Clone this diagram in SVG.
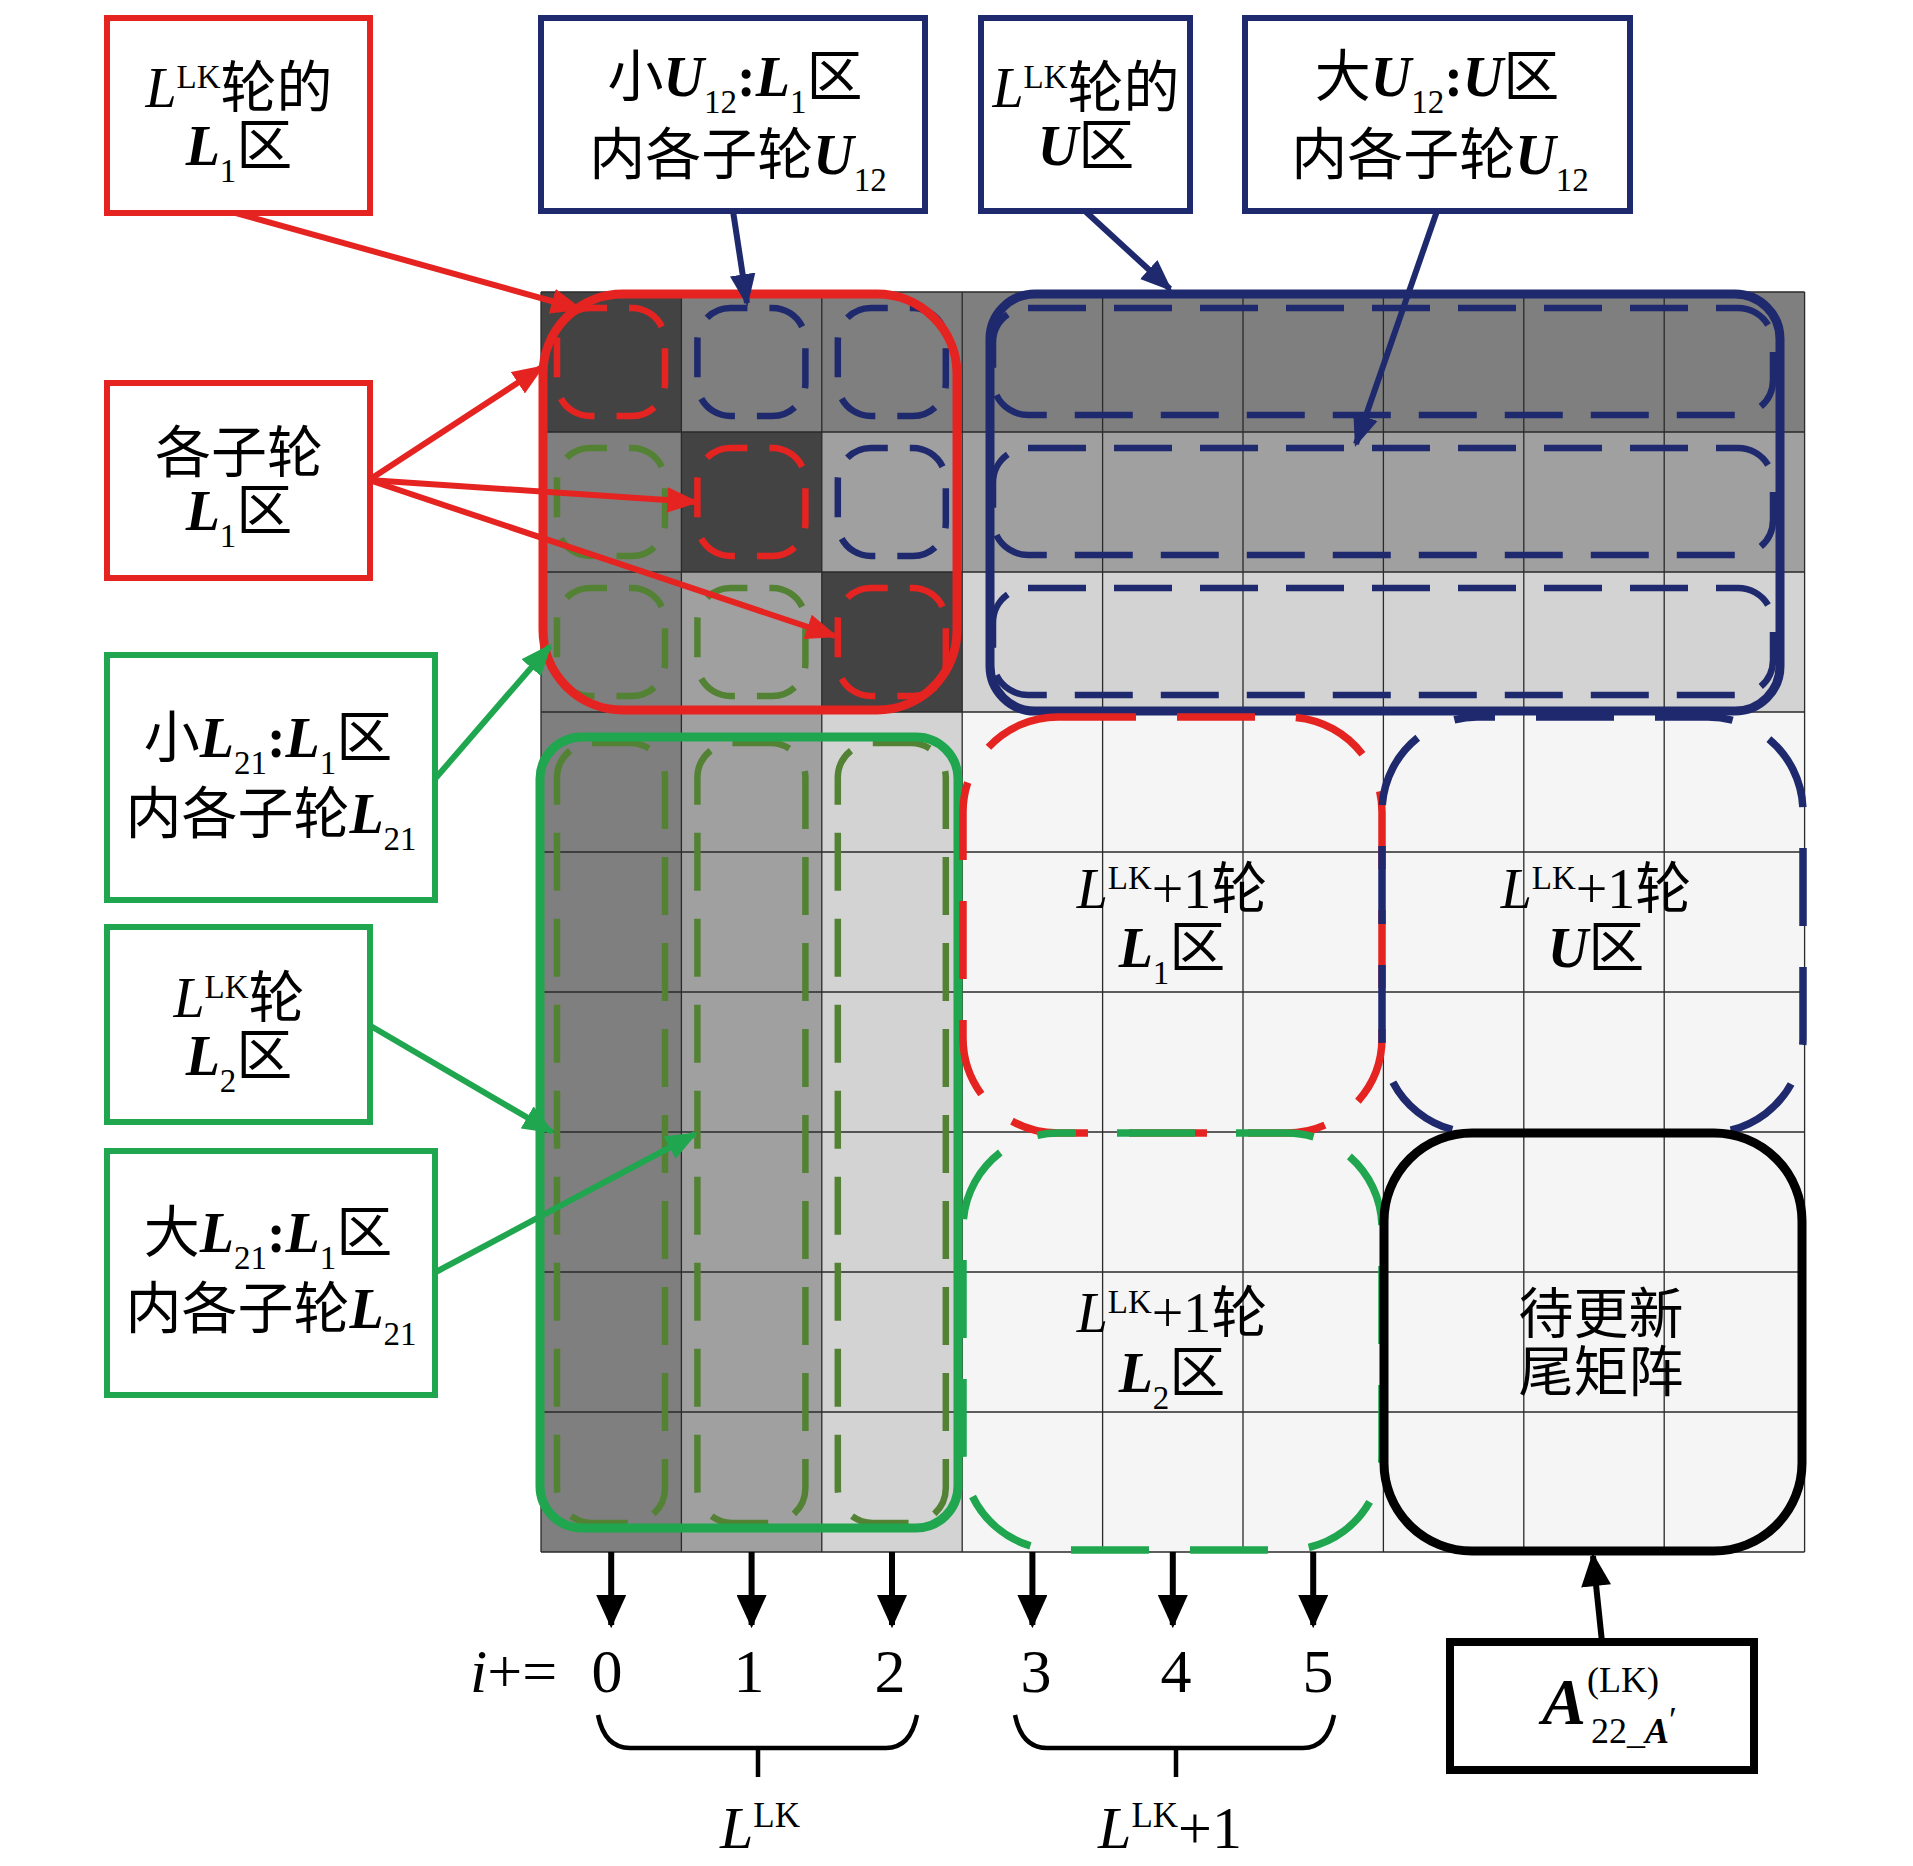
<svg xmlns="http://www.w3.org/2000/svg" width="1913" height="1866" viewBox="0 0 1913 1866">
<style>
.t{font-family:"Liberation Serif","Noto Sans CJK SC",serif;fill:#000}
.m{font-size:56px}
.bi{font-weight:bold;font-style:italic}
.it{font-style:italic}
.s{font-size:33px}
.box{fill:#fff;stroke-width:6}
.red{stroke:#e52421}
.blu{stroke:#1f2a6e}
.grn{stroke:#1fa64f}
.olv{stroke:#548235}
.blk{stroke:#000}
.cell{fill:none;stroke-width:6.5;stroke-dasharray:40 22;stroke-dashoffset:23}
.col{fill:none;stroke-width:6.5;stroke-dasharray:58 28}
.big{fill:none;stroke-width:7.5;stroke-dasharray:78 41}
.sol{fill:none;stroke-width:9}
.ln{fill:none;stroke-width:6}
</style>
<defs>
<marker id="mR" viewBox="0 0 10 8" refX="9" refY="4" markerWidth="32" markerHeight="26" markerUnits="userSpaceOnUse" orient="auto"><path d="M0,0L10,4L0,8z" fill="#e52421"/></marker>
<marker id="mB" viewBox="0 0 10 8" refX="9" refY="4" markerWidth="32" markerHeight="26" markerUnits="userSpaceOnUse" orient="auto"><path d="M0,0L10,4L0,8z" fill="#1f2a6e"/></marker>
<marker id="mG" viewBox="0 0 10 8" refX="9" refY="4" markerWidth="32" markerHeight="26" markerUnits="userSpaceOnUse" orient="auto"><path d="M0,0L10,4L0,8z" fill="#1fa64f"/></marker>
<marker id="mK" viewBox="0 0 10 9" refX="9" refY="4.5" markerWidth="34" markerHeight="30" markerUnits="userSpaceOnUse" orient="auto"><path d="M0,0L10,4.5L0,9z" fill="#000"/></marker>
</defs>
<rect width="1913" height="1866" fill="#fff"/>

<g id="matrix">
<rect x="541" y="292" width="1264" height="140" fill="#7f7f7f"/>
<rect x="541" y="432" width="1264" height="140" fill="#a0a0a0"/>
<rect x="541" y="572" width="1264" height="140" fill="#d3d3d3"/>
<rect x="541" y="432" width="140.4" height="1120" fill="#7f7f7f"/>
<rect x="681.4" y="572" width="140.4" height="980" fill="#a0a0a0"/>
<rect x="821.8" y="712" width="140.4" height="840" fill="#d3d3d3"/>
<rect x="962.2" y="712" width="842.4" height="840" fill="#f5f5f5"/>
<rect x="541" y="292" width="140.4" height="140" fill="#434343"/>
<rect x="681.4" y="432" width="140.4" height="140" fill="#434343"/>
<rect x="821.8" y="572" width="140.4" height="140" fill="#434343"/>
<path d="M541,292V1552M681.4,292V1552M821.8,292V1552M962.2,292V1552M1102.6,292V1552M1243,292V1552M1383.4,292V1552M1523.8,292V1552M1664.2,292V1552M1804.6,292V1552M541,292H1804.6M541,432H1804.6M541,572H1804.6M541,712H1804.6M541,852H1804.6M541,992H1804.6M541,1132H1804.6M541,1272H1804.6M541,1412H1804.6M541,1552H1804.6" stroke="#2a2a2a" stroke-width="1.3" fill="none"/>
</g>

<g id="sub-blocks">
<rect class="cell red" x="557" y="308" width="108" height="108" rx="33"/>
<rect class="cell blu" x="697.4" y="308" width="108" height="108" rx="33"/>
<rect class="cell blu" x="837.8" y="308" width="108" height="108" rx="33"/>
<rect class="cell olv" x="557" y="448" width="108" height="108" rx="33"/>
<rect class="cell red" x="697.4" y="448" width="108" height="108" rx="33"/>
<rect class="cell blu" x="837.8" y="448" width="108" height="108" rx="33"/>
<rect class="cell olv" x="557" y="588" width="108" height="108" rx="33"/>
<rect class="cell olv" x="697.4" y="588" width="108" height="108" rx="33"/>
<rect class="cell red" x="837.8" y="588" width="108" height="108" rx="33"/>
<rect class="col olv" x="557" y="743" width="108" height="780" rx="35"/>
<rect class="col olv" x="697.4" y="743" width="108" height="780" rx="35"/>
<rect class="col olv" x="837.8" y="743" width="108" height="780" rx="35"/>
<rect class="col blu" x="993" y="308" width="780" height="107" rx="35"/>
<rect class="col blu" x="993" y="448" width="780" height="107" rx="35"/>
<rect class="col blu" x="993" y="588" width="780" height="107" rx="35"/>
</g>

<g id="region-L1"><rect class="sol red" x="543" y="294" width="414" height="416" rx="80"/></g>
<g id="region-U"><rect class="sol blu" x="990" y="294" width="790" height="417" rx="45"/></g>
<g id="region-L2"><rect class="sol grn" x="540" y="737" width="418" height="791" rx="42"/></g>
<g id="next-L1"><rect class="big red" x="963" y="717" width="419" height="416" rx="95"/>
<text class="t m" x="1172" y="908" text-anchor="middle"><tspan class="it">L</tspan><tspan class="s" dy="-19">LK</tspan><tspan dy="19">+1轮</tspan></text>
<text class="t m" x="1172" y="967" text-anchor="middle"><tspan class="bi">L</tspan><tspan class="s" dy="17">1</tspan><tspan dy="-17">区</tspan></text></g>
<g id="next-U"><rect class="big blu" x="1382" y="717" width="421" height="416" rx="95" stroke-dashoffset="60"/>
<text class="t m" x="1596" y="908" text-anchor="middle"><tspan class="it">L</tspan><tspan class="s" dy="-19">LK</tspan><tspan dy="19">+1轮</tspan></text>
<text class="t m" x="1596" y="967" text-anchor="middle"><tspan class="bi">U</tspan>区</text></g>
<g id="next-L2"><rect class="big grn" x="963" y="1133" width="419" height="417" rx="95" stroke-dashoffset="60"/>
<text class="t m" x="1172" y="1332" text-anchor="middle"><tspan class="it">L</tspan><tspan class="s" dy="-19">LK</tspan><tspan dy="19">+1轮</tspan></text>
<text class="t m" x="1172" y="1392" text-anchor="middle"><tspan class="bi">L</tspan><tspan class="s" dy="17">2</tspan><tspan dy="-17">区</tspan></text></g>
<g id="tail"><rect class="sol blk" x="1384" y="1133" width="418" height="418" rx="88"/>
<text class="t" x="1601" y="1333" text-anchor="middle" style="font-size:55px">待更新</text>
<text class="t" x="1601" y="1391" text-anchor="middle" style="font-size:55px">尾矩阵</text></g>

<g id="box1"><rect class="box red" x="107" y="18" width="263" height="195"/>
<text class="t m" x="239" y="107" text-anchor="middle"><tspan class="it">L</tspan><tspan class="s" dy="-19">LK</tspan><tspan dy="19">轮的</tspan></text>
<text class="t m" x="239" y="165" text-anchor="middle"><tspan class="bi">L</tspan><tspan class="s" dy="17">1</tspan><tspan dy="-17">区</tspan></text></g>
<g id="box2"><rect class="box blu" x="541" y="18" width="384" height="193"/>
<text class="t m" x="735" y="96" text-anchor="middle">小<tspan class="bi">U</tspan><tspan class="s" dy="17">12</tspan><tspan dy="-17" font-weight="bold">:</tspan><tspan class="bi">L</tspan><tspan class="s" dy="17">1</tspan><tspan dy="-17">区</tspan></text>
<text class="t m" x="738" y="174" text-anchor="middle">内各子轮<tspan class="bi">U</tspan><tspan class="s" dy="17">12</tspan></text></g>
<g id="box3"><rect class="box blu" x="981" y="18" width="209" height="193"/>
<text class="t m" x="1086" y="107" text-anchor="middle"><tspan class="it">L</tspan><tspan class="s" dy="-19">LK</tspan><tspan dy="19">轮的</tspan></text>
<text class="t m" x="1086" y="165" text-anchor="middle"><tspan class="bi">U</tspan>区</text></g>
<g id="box4"><rect class="box blu" x="1245" y="18" width="385" height="193"/>
<text class="t m" x="1437" y="96" text-anchor="middle">大<tspan class="bi">U</tspan><tspan class="s" dy="17">12</tspan><tspan dy="-17" font-weight="bold">:</tspan><tspan class="bi">U</tspan>区</text>
<text class="t m" x="1440" y="174" text-anchor="middle">内各子轮<tspan class="bi">U</tspan><tspan class="s" dy="17">12</tspan></text></g>
<g id="box5"><rect class="box red" x="107" y="383" width="263" height="195"/>
<text class="t m" x="239" y="472" text-anchor="middle">各子轮</text>
<text class="t m" x="239" y="530" text-anchor="middle"><tspan class="bi">L</tspan><tspan class="s" dy="17">1</tspan><tspan dy="-17">区</tspan></text></g>
<g id="box6"><rect class="box grn" x="107" y="655" width="328" height="245"/>
<text class="t m" x="268" y="757" text-anchor="middle">小<tspan class="bi">L</tspan><tspan class="s" dy="17">21</tspan><tspan dy="-17" font-weight="bold">:</tspan><tspan class="bi">L</tspan><tspan class="s" dy="17">1</tspan><tspan dy="-17">区</tspan></text>
<text class="t m" x="271" y="833" text-anchor="middle">内各子轮<tspan class="bi">L</tspan><tspan class="s" dy="17">21</tspan></text></g>
<g id="box7"><rect class="box grn" x="107" y="927" width="263" height="195"/>
<text class="t m" x="239" y="1017" text-anchor="middle"><tspan class="it">L</tspan><tspan class="s" dy="-19">LK</tspan><tspan dy="19">轮</tspan></text>
<text class="t m" x="239" y="1075" text-anchor="middle"><tspan class="bi">L</tspan><tspan class="s" dy="17">2</tspan><tspan dy="-17">区</tspan></text></g>
<g id="box8"><rect class="box grn" x="107" y="1151" width="328" height="244"/>
<text class="t m" x="268" y="1252" text-anchor="middle">大<tspan class="bi">L</tspan><tspan class="s" dy="17">21</tspan><tspan dy="-17" font-weight="bold">:</tspan><tspan class="bi">L</tspan><tspan class="s" dy="17">1</tspan><tspan dy="-17">区</tspan></text>
<text class="t m" x="271" y="1328" text-anchor="middle">内各子轮<tspan class="bi">L</tspan><tspan class="s" dy="17">21</tspan></text></g>
<g id="boxA"><rect x="1450" y="1642" width="304" height="128" fill="#fff" stroke="#000" stroke-width="8"/>
<text class="t bi" x="1542" y="1724" style="font-size:66px">A</text>
<text class="t" x="1587" y="1692" style="font-size:36px">(LK)</text>
<text class="t" x="1591" y="1743" style="font-size:36px">22_<tspan class="bi">A</tspan><tspan dy="-11">′</tspan></text></g>

<g id="axis">
<text class="t" x="470" y="1692" style="font-size:62px"><tspan class="it">i</tspan>+=</text>
<text class="t" x="607" y="1692" style="font-size:62px" text-anchor="middle">0</text>
<text class="t" x="749" y="1692" style="font-size:62px" text-anchor="middle">1</text>
<text class="t" x="890" y="1692" style="font-size:62px" text-anchor="middle">2</text>
<text class="t" x="1036" y="1692" style="font-size:62px" text-anchor="middle">3</text>
<text class="t" x="1176" y="1692" style="font-size:62px" text-anchor="middle">4</text>
<text class="t" x="1318" y="1692" style="font-size:62px" text-anchor="middle">5</text>
<path d="M598,1715C602,1735 612,1748 630,1748H886C904,1748 913,1735 917,1715M758,1748V1777" fill="none" stroke="#000" stroke-width="4.5"/>
<path d="M1015,1715C1019,1735 1029,1748 1047,1748H1303C1321,1748 1330,1735 1334,1715M1176,1748V1777" fill="none" stroke="#000" stroke-width="4.5"/>
<text class="t" x="760" y="1848" text-anchor="middle" style="font-size:60px"><tspan class="it">L</tspan><tspan font-size="35" dy="-21">LK</tspan></text>
<text class="t" x="1170" y="1848" text-anchor="middle" style="font-size:60px"><tspan class="it">L</tspan><tspan font-size="35" dy="-21">LK</tspan><tspan dy="21">+1</tspan></text>
</g>

<g id="connectors">
<line class="ln red" x1="236" y1="213" x2="580" y2="309" marker-end="url(#mR)"/>
<line class="ln blu" x1="733" y1="211" x2="747" y2="303" marker-end="url(#mB)"/>
<line class="ln blu" x1="1085" y1="211" x2="1170" y2="289" marker-end="url(#mB)"/>
<line class="ln blu" x1="1437" y1="211" x2="1356" y2="444" marker-end="url(#mB)"/>
<line class="ln red" x1="369" y1="480" x2="542" y2="367" marker-end="url(#mR)"/>
<line class="ln red" x1="369" y1="480" x2="696" y2="502" marker-end="url(#mR)"/>
<line class="ln red" x1="369" y1="480" x2="835" y2="636" marker-end="url(#mR)"/>
<line class="ln grn" x1="434" y1="780" x2="550" y2="646" marker-end="url(#mG)"/>
<line class="ln grn" x1="369" y1="1025" x2="552" y2="1132" marker-end="url(#mG)"/>
<line class="ln grn" x1="434" y1="1273" x2="695" y2="1134" marker-end="url(#mG)"/>
<line class="ln blk" x1="611.2" y1="1552" x2="611.2" y2="1625" marker-end="url(#mK)"/>
<line class="ln blk" x1="751.6" y1="1552" x2="751.6" y2="1625" marker-end="url(#mK)"/>
<line class="ln blk" x1="892" y1="1552" x2="892" y2="1625" marker-end="url(#mK)"/>
<line class="ln blk" x1="1032.4" y1="1552" x2="1032.4" y2="1625" marker-end="url(#mK)"/>
<line class="ln blk" x1="1172.8" y1="1552" x2="1172.8" y2="1625" marker-end="url(#mK)"/>
<line class="ln blk" x1="1313.2" y1="1552" x2="1313.2" y2="1625" marker-end="url(#mK)"/>
<line class="ln blk" x1="1602" y1="1642" x2="1593" y2="1556" marker-end="url(#mK)"/>
</g>
</svg>
